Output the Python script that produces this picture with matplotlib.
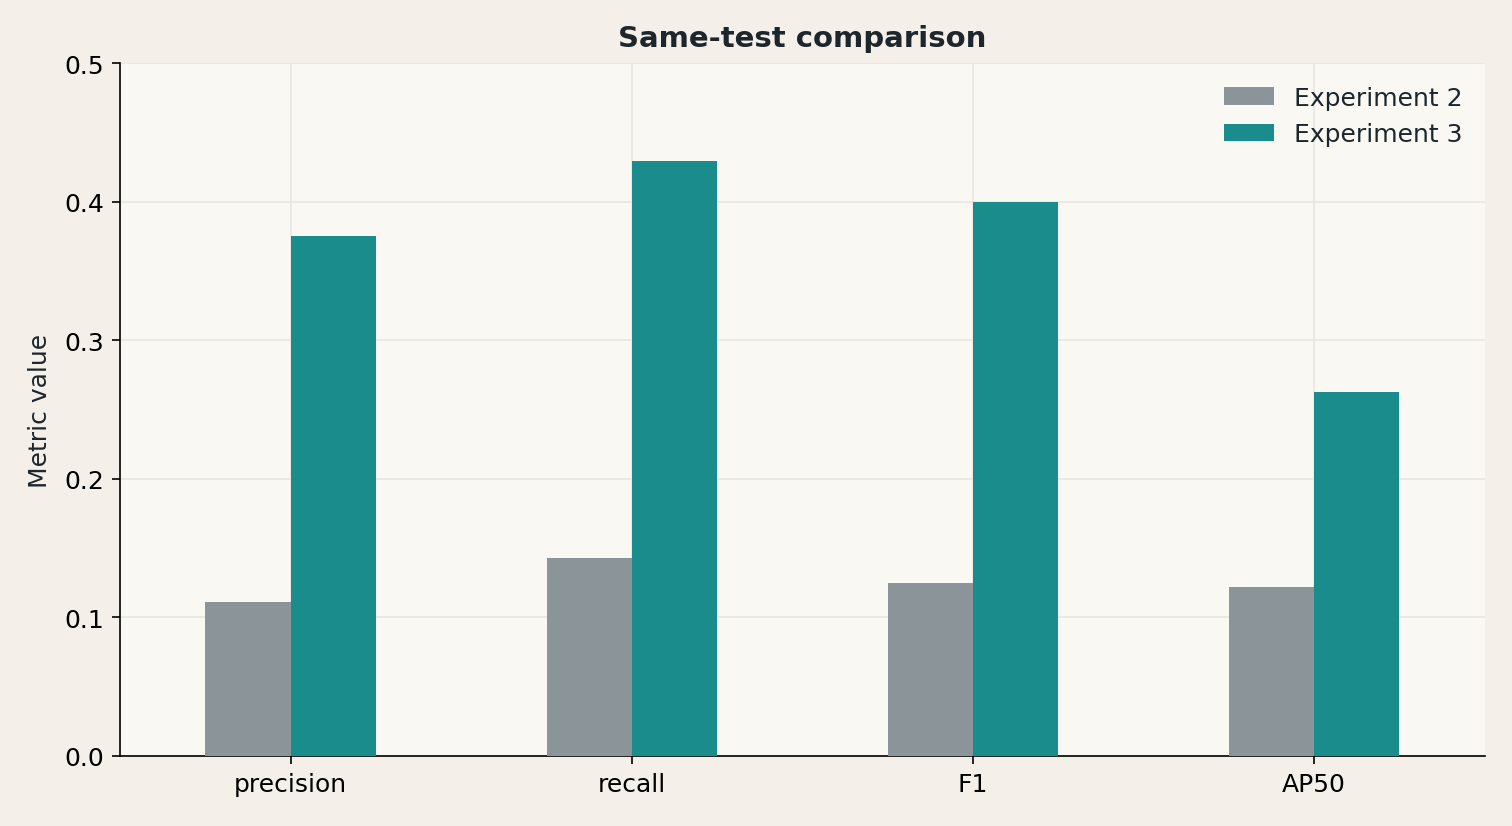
import matplotlib
matplotlib.use("Agg")
import matplotlib.pyplot as plt
import numpy as np

# Data
metrics = ["precision", "recall", "F1", "AP50"]
exp2 = [0.111, 0.143, 0.125, 0.122]
exp3 = [0.375, 0.429, 0.400, 0.263]

text_color = "#1c262c"

fig, ax = plt.subplots(figsize=(10.08, 5.513), dpi=150)
fig.patch.set_facecolor("#f4f0e9")
ax.set_facecolor("#f9f8f3")

x = np.arange(len(metrics))
w = 0.25
ax.bar(x - w / 2, exp2, w, color="#8a9499", label="Experiment 2", zorder=3)
ax.bar(x + w / 2, exp3, w, color="#1a8c8c", label="Experiment 3", zorder=3)

ax.set_xticks(x)
ax.set_xticklabels(metrics, fontsize=12)
ax.set_yticks([0.0, 0.1, 0.2, 0.3, 0.4, 0.5])
ax.tick_params(axis="y", labelsize=12)
ax.tick_params(length=4)
ax.set_xlim(-0.5, 3.5)
ax.set_ylim(0, 0.5)

ax.set_ylabel("Metric value", fontsize=12, color=text_color, labelpad=6)
ax.set_title("Same-test comparison", fontsize=14, fontweight="bold",
             color=text_color, pad=8)

ax.grid(True, color="#e8e6e0", linewidth=0.8, zorder=0)
ax.spines["top"].set_visible(False)
ax.spines["right"].set_visible(False)

leg = ax.legend(frameon=False, fontsize=12)
for t in leg.get_texts():
    t.set_color(text_color)

fig.subplots_adjust(left=0.0794, right=0.982, top=0.9226, bottom=0.0846)
fig.savefig("out.png", facecolor=fig.get_facecolor())
